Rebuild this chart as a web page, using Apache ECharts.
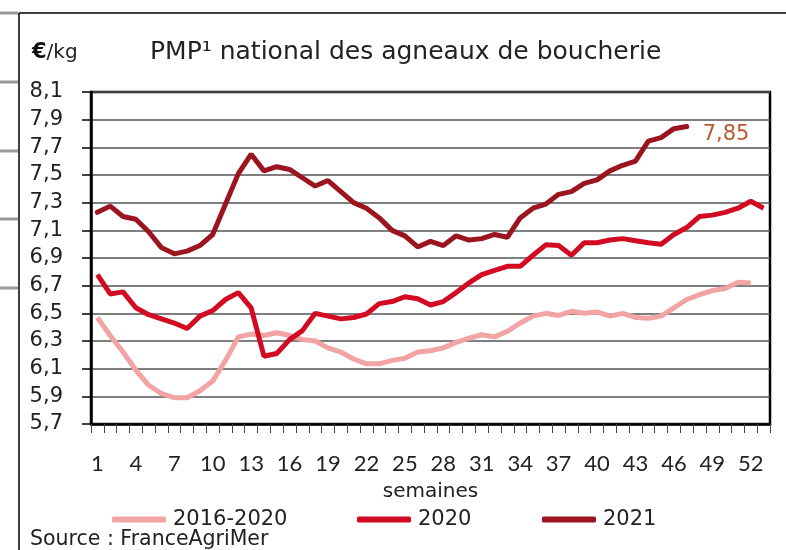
<!DOCTYPE html>
<html>
<head>
<meta charset="utf-8">
<script src="https://cdn.jsdelivr.net/npm/echarts@6/dist/echarts.min.js"></script>
<style>
  html, body { margin: 0; padding: 0; background: #fff; }
  #chart { width: 786px; height: 550px; }
</style>
</head>
<body>
<div id="chart"></div>
<script>
// semaines 1..53
var weeks = []
for (var w = 1; w <= 53; w++) weeks.push(String(w))

// moyenne 2016-2020 (52 semaines)
var moy1620 = [
  6.47, 6.34, 6.22, 6.09, 5.98, 5.92, 5.89, 5.89, 5.94, 6.01,
  6.16, 6.33, 6.35, 6.34, 6.36, 6.34, 6.31, 6.30, 6.25, 6.22,
  6.17, 6.135, 6.135, 6.16, 6.175, 6.22, 6.23, 6.25, 6.29, 6.32,
  6.345, 6.33, 6.37, 6.43, 6.48, 6.50, 6.485, 6.515, 6.50, 6.51,
  6.48, 6.50, 6.47, 6.465, 6.48, 6.54, 6.60, 6.635, 6.665, 6.68,
  6.725, 6.72
]

// 2020 (53 semaines)
var y2020 = [
  6.78, 6.64, 6.655, 6.54, 6.49, 6.46, 6.43, 6.39, 6.48, 6.52,
  6.60, 6.65, 6.54, 6.19, 6.21, 6.31, 6.375, 6.50, 6.48, 6.46,
  6.47, 6.495, 6.57, 6.585, 6.62, 6.605, 6.56, 6.585, 6.65, 6.72,
  6.78, 6.81, 6.84, 6.84, 6.92, 6.995, 6.99, 6.92, 7.01, 7.01,
  7.03, 7.04, 7.025, 7.01, 7.00, 7.07, 7.12, 7.20, 7.21, 7.23,
  7.26, 7.31, 7.26
]

// 2021 (47 semaines)
var y2021 = [
  7.23, 7.275, 7.20, 7.18, 7.09, 6.975, 6.93, 6.95, 6.99, 7.07,
  7.29, 7.51, 7.65, 7.53, 7.56, 7.54, 7.48, 7.42, 7.46, 7.38,
  7.30, 7.26, 7.19, 7.10, 7.06, 6.98, 7.02, 6.99, 7.06, 7.03,
  7.04, 7.07, 7.05, 7.19, 7.26, 7.29, 7.36, 7.38, 7.44, 7.465,
  7.53, 7.57, 7.60, 7.745, 7.77, 7.835, 7.85
]

var colors = ['#f2a3a3', '#d20b22', '#9b1520']
var font = '"DejaVu Sans", sans-serif'
var narrow = 'Lato, sans-serif'

var chart = echarts.init(document.getElementById('chart'))

function legendItem(name, left) {
  return {
    data: [name],
    left: left,
    top: 504,
    icon: 'roundRect',
    itemWidth: 54,
    itemHeight: 6,
    textStyle: { fontFamily: font, fontSize: 21, color: '#222', padding: [0, 0, 0, 2] },
    selectedMode: false
  }
}

var option = {
  animation: false,
  color: colors,
  grid: { left: 91, right: 16, top: 92, bottom: 126, show: true, borderColor: '#000', borderWidth: 2.5 },
  legend: [
    legendItem('2016-2020', 107),
    legendItem('2020', 352),
    legendItem('2021', 537)
  ],
  graphic: [
    // cadre extérieur
    { type: 'line', shape: { x1: 19, y1: 13, x2: 786, y2: 13 }, style: { stroke: '#000', lineWidth: 1.5 } },
    { type: 'line', shape: { x1: 19, y1: 13, x2: 19, y2: 550 }, style: { stroke: '#000', lineWidth: 1.5 } },
    { type: 'line', shape: { x1: 0, y1: 13, x2: 18, y2: 13 }, style: { stroke: '#999', lineWidth: 3 } },
    { type: 'line', shape: { x1: 0, y1: 82, x2: 18, y2: 82 }, style: { stroke: '#999', lineWidth: 3 } },
    { type: 'line', shape: { x1: 0, y1: 151, x2: 18, y2: 151 }, style: { stroke: '#999', lineWidth: 3 } },
    { type: 'line', shape: { x1: 0, y1: 219, x2: 18, y2: 219 }, style: { stroke: '#999', lineWidth: 3 } },
    { type: 'line', shape: { x1: 0, y1: 288, x2: 18, y2: 288 }, style: { stroke: '#999', lineWidth: 3 } },
    {
      type: 'text', left: 32, top: 42,
      style: {
        text: '{b|€}/kg',
        rich: { b: { fontWeight: 'bold', fontSize: 21, fontFamily: font, fill: '#111' } },
        font: '20px ' + font, fill: '#222'
      }
    },
    {
      type: 'text', left: 150, top: 40,
      style: { text: 'PMP¹ national des agneaux de boucherie', font: '25px ' + font, fill: '#222' }
    },
    {
      type: 'text', left: 30, top: 529,
      style: { text: 'Source : FranceAgriMer', font: '20.5px ' + font, fill: '#222' }
    }
  ],
  xAxis: {
    type: 'category',
    data: weeks,
    boundaryGap: true,
    name: 'semaines',
    nameLocation: 'middle',
    nameGap: 58,
    nameTextStyle: { fontFamily: font, fontSize: 20, color: '#222' },
    axisLine: { lineStyle: { color: '#000', width: 2.5 } },
    axisTick: { show: true, interval: 0, length: 9, lineStyle: { color: '#444', width: 1 } },
    axisLabel: { interval: 2, margin: 29, fontFamily: narrow, fontSize: 22, color: '#222' },
    splitLine: { show: false }
  },
  yAxis: {
    type: 'value',
    min: 5.7,
    max: 8.1,
    interval: 0.2,
    axisLine: { show: true, lineStyle: { color: '#000', width: 2.5 } },
    axisTick: { show: true, length: 9, lineStyle: { color: '#000', width: 1.5 } },
    axisLabel: {
      margin: 28, fontFamily: font, fontSize: 21, color: '#222',
      formatter: function (v) { return v.toFixed(1).replace('.', ',') }
    },
    splitLine: { lineStyle: { color: '#555', width: 1.6 } }
  },
  series: [
    {
      name: '2016-2020', type: 'line', data: moy1620, symbol: 'none',
      lineStyle: { width: 5, color: colors[0] }, itemStyle: { color: colors[0] }
    },
    {
      name: '2020', type: 'line', data: y2020, symbol: 'none',
      lineStyle: { width: 5, color: colors[1] }, itemStyle: { color: colors[1] }
    },
    {
      name: '2021', type: 'line', data: y2021, symbol: 'none',
      lineStyle: { width: 5, color: colors[2], cap: 'round' }, itemStyle: { color: colors[2] },
      endLabel: {
        show: true,
        formatter: function (p) { return String(p.value).replace('.', ',') },
        distance: 16,
        offset: [0, 8],
        fontFamily: font, fontSize: 21, color: '#b8582f'
      }
    }
  ]
}

chart.setOption(option)
</script>
</body>
</html>
